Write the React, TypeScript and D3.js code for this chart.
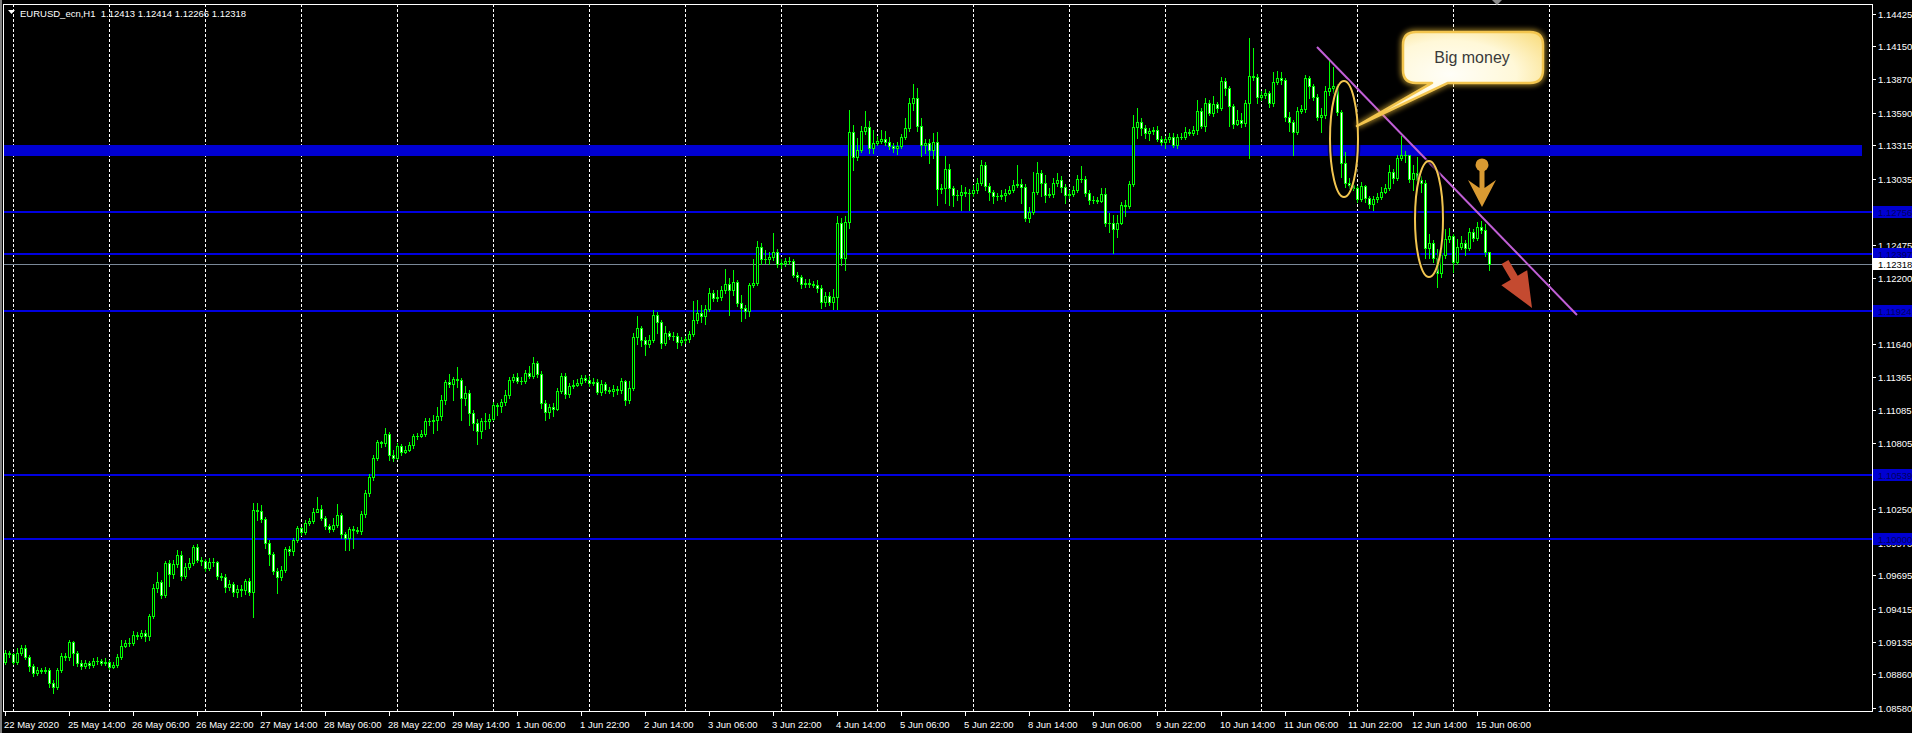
import React from "react";
import * as d3 from "d3";

const symbolTitle = "EURUSD_ecn,H1";
const lastBarOHLC = [1.12413, 1.12414, 1.12266, 1.12318];
const firstOpen = 1.08965;

const closes = [
1.09041,1.09032,1.08965,1.09041,1.09083,1.09007,1.08931,1.08873,1.08898,1.08890,
1.08898,1.08788,1.08754,1.08898,1.09015,1.09007,1.09133,1.09041,1.08957,1.08931,
1.08957,1.08940,1.08974,1.08974,1.08957,1.08965,1.08923,1.08940,1.09007,1.09099,
1.09125,1.09125,1.09192,1.09183,1.09209,1.09183,1.09352,1.09588,1.09638,1.09529,
1.09799,1.09706,1.09790,1.09866,1.09689,1.09765,1.09799,1.09933,1.09824,1.09816,
1.09757,1.09807,1.09807,1.09689,1.09681,1.09596,1.09621,1.09554,1.09579,1.09571,
1.09647,1.09554,1.10245,1.10237,1.10169,1.09967,1.09874,1.09732,1.09681,1.09740,
1.09916,1.09900,1.09992,1.10093,1.10059,1.10136,1.10153,1.10228,1.10253,1.10178,
1.10110,1.10085,1.10119,1.10203,1.10042,1.10009,1.10085,1.10076,1.10068,1.10211,
1.10388,1.10523,1.10683,1.10817,1.10809,1.10884,1.10708,1.10683,1.10783,1.10733,
1.10750,1.10792,1.10867,1.10867,1.10884,1.10995,1.10995,1.11003,1.11036,1.11171,
1.11322,1.11305,1.11348,1.11339,1.11188,1.11230,1.11062,1.10978,1.10910,1.10995,
1.10995,1.11011,1.11129,1.11120,1.11154,1.11213,1.11339,1.11365,1.11331,1.11331,
1.11399,1.11373,1.11483,1.11390,1.11146,1.11070,1.11112,1.11095,1.11247,1.11373,
1.11221,1.11288,1.11297,1.11314,1.11356,1.11339,1.11314,1.11322,1.11238,1.11305,
1.11255,1.11247,1.11263,1.11255,1.11331,1.11171,1.11272,1.11701,1.11777,1.11676,
1.11642,1.11676,1.11887,1.11828,1.11651,1.11735,1.11709,1.11709,1.11659,1.11676,
1.11684,1.11726,1.11845,1.11904,1.11878,1.11937,1.12072,1.12030,1.12038,1.12097,
1.12148,1.12097,1.12164,1.11988,1.11946,1.11920,1.12139,1.12156,1.12459,1.12358,
1.12358,1.12375,1.12417,1.12316,1.12325,1.12342,1.12342,1.12224,1.12207,1.12148,
1.12156,1.12148,1.12139,1.12114,1.11996,1.12047,1.11996,1.12038,1.12662,1.12367,
1.12670,1.13427,1.13217,1.13276,1.13436,1.13469,1.13293,1.13335,1.13352,1.13369,
1.13343,1.13310,1.13293,1.13310,1.13386,1.13461,1.13672,1.13714,1.13478,1.13318,
1.13335,1.13276,1.13343,1.12947,1.12956,1.13116,1.12956,1.12897,1.12897,1.12922,
1.12914,1.12914,1.12939,1.12998,1.13150,1.12973,1.12922,1.12888,1.12888,1.12897,
1.12914,1.12939,1.12981,1.12989,1.12964,1.12704,1.12754,1.12922,1.13083,1.12998,
1.12897,1.12905,1.12998,1.13023,1.12964,1.12897,1.12905,1.12939,1.13031,1.13031,
1.12914,1.12855,1.12855,1.12846,1.12905,1.12662,1.12662,1.12611,1.12662,1.12813,
1.12804,1.12989,1.13469,1.13512,1.13461,1.13419,1.13436,1.13444,1.13369,1.13343,
1.13369,1.13386,1.13318,1.13386,1.13386,1.13427,1.13419,1.13444,1.13604,1.13478,
1.13672,1.13588,1.13664,1.13630,1.13857,1.13798,1.13646,1.13495,1.13529,1.13504,
1.13672,1.13899,1.13891,1.13722,1.13739,1.13756,1.13672,1.13848,1.13882,1.13865,
1.13554,1.13512,1.13427,1.13604,1.13621,1.13882,1.13815,1.13722,1.13554,1.13571,
1.13773,1.13798,1.13815,1.13596,1.13167,1.12998,1.12981,1.12956,1.12863,1.12973,
1.12872,1.12821,1.12863,1.12880,1.12922,1.12956,1.13091,1.13040,1.13209,1.13234,
1.13234,1.13031,1.13083,1.13023,1.12998,1.12451,1.12493,1.12367,1.12241,1.12392,
1.12527,1.12552,1.12333,1.12459,1.12493,1.12451,1.12585,1.12535,1.12628,1.12602,
1.12413,1.12318
];

const highs = [
1.09066,1.09058,1.09041,1.09083,1.09108,1.09108,1.09024,1.08948,1.08923,1.08915,
1.08923,1.08915,1.08813,1.08915,1.09041,1.09041,1.09150,1.09142,1.09058,1.08982,
1.08982,1.08974,1.08999,1.09007,1.08990,1.08999,1.08982,1.08965,1.09032,1.09150,
1.09150,1.09167,1.09226,1.09217,1.09234,1.09234,1.09369,1.09621,1.09723,1.09655,
1.09816,1.09824,1.09824,1.09908,1.09900,1.09799,1.09841,1.09950,1.09958,1.09849,
1.09832,1.09841,1.09841,1.09816,1.09715,1.09706,1.09655,1.09638,1.09613,1.09613,
1.09664,1.09673,1.10304,1.10304,1.10287,1.10186,1.09992,1.09891,1.09757,1.09773,
1.09933,1.09941,1.10009,1.10110,1.10102,1.10161,1.10178,1.10262,1.10354,1.10287,
1.10194,1.10127,1.10178,1.10295,1.10220,1.10059,1.10102,1.10110,1.10102,1.10237,
1.10413,1.10548,1.10708,1.10834,1.10826,1.10936,1.10901,1.10750,1.10809,1.10800,
1.10783,1.10817,1.10884,1.10893,1.10918,1.11020,1.11020,1.11045,1.11112,1.11213,
1.11339,1.11390,1.11365,1.11449,1.11356,1.11288,1.11255,1.11087,1.11011,1.11020,
1.11062,1.11053,1.11154,1.11146,1.11180,1.11255,1.11365,1.11390,1.11399,1.11365,
1.11424,1.11457,1.11533,1.11500,1.11416,1.11171,1.11137,1.11146,1.11272,1.11399,
1.11399,1.11314,1.11339,1.11348,1.11382,1.11382,1.11373,1.11356,1.11348,1.11339,
1.11322,1.11280,1.11297,1.11288,1.11356,1.11339,1.11331,1.11735,1.11878,1.11794,
1.11701,1.11718,1.11929,1.11912,1.11845,1.11794,1.11752,1.11743,1.11735,1.11701,
1.11709,1.11752,1.12005,1.12013,1.11971,1.11971,1.12114,1.12097,1.12097,1.12131,
1.12274,1.12198,1.12266,1.12181,1.12055,1.11971,1.12156,1.12358,1.12510,1.12493,
1.12434,1.12417,1.12577,1.12442,1.12358,1.12367,1.12375,1.12358,1.12249,1.12224,
1.12190,1.12190,1.12173,1.12181,1.12139,1.12080,1.12080,1.12106,1.12720,1.12704,
1.12720,1.13613,1.13486,1.13377,1.13478,1.13604,1.13520,1.13444,1.13394,1.13444,
1.13436,1.13386,1.13335,1.13343,1.13411,1.13545,1.13714,1.13832,1.13798,1.13545,
1.13369,1.13369,1.13419,1.13427,1.12989,1.13225,1.13158,1.12973,1.12939,1.12981,
1.12964,1.12947,1.12981,1.13040,1.13192,1.13175,1.12998,1.12939,1.12914,1.12939,
1.12947,1.12973,1.13023,1.13150,1.13031,1.12989,1.12796,1.13091,1.13175,1.13108,
1.13066,1.12956,1.13040,1.13083,1.13057,1.12989,1.12939,1.12973,1.13066,1.13142,
1.13057,1.12939,1.12888,1.12880,1.12956,1.12956,1.12746,1.12729,1.12729,1.12838,
1.12855,1.13014,1.13571,1.13630,1.13545,1.13486,1.13461,1.13469,1.13478,1.13394,
1.13394,1.13419,1.13419,1.13411,1.13419,1.13469,1.13453,1.13478,1.13697,1.13630,
1.13714,1.13697,1.13731,1.13680,1.13891,1.13882,1.13815,1.13664,1.13613,1.13588,
1.13697,1.14219,1.14135,1.13916,1.13773,1.13790,1.13773,1.13933,1.13941,1.13933,
1.13882,1.13596,1.13529,1.13638,1.13655,1.13907,1.13899,1.13832,1.13748,1.13630,
1.13815,1.14034,1.13975,1.13832,1.13613,1.13259,1.13040,1.12998,1.12973,1.13006,
1.12981,1.12888,1.12888,1.12914,1.12964,1.12989,1.13150,1.13116,1.13234,1.13394,
1.13268,1.13234,1.13150,1.13217,1.13057,1.13023,1.12569,1.12518,1.12442,1.12426,
1.12611,1.12619,1.12569,1.12527,1.12552,1.12518,1.12619,1.12611,1.12670,1.12679,
1.12653,1.12414
];

const lows = [
1.08948,1.09007,1.08948,1.08948,1.09024,1.08990,1.08890,1.08847,1.08856,1.08873,
1.08873,1.08754,1.08704,1.08737,1.08881,1.08982,1.08982,1.08940,1.08931,1.08906,
1.08915,1.08915,1.08923,1.08948,1.08940,1.08940,1.08906,1.08915,1.08923,1.08990,
1.09091,1.09099,1.09108,1.09158,1.09167,1.09142,1.09150,1.09336,1.09554,1.09504,
1.09512,1.09605,1.09673,1.09765,1.09655,1.09673,1.09748,1.09782,1.09807,1.09782,
1.09732,1.09740,1.09773,1.09664,1.09655,1.09554,1.09571,1.09520,1.09512,1.09520,
1.09537,1.09529,1.09344,1.10161,1.10144,1.09925,1.09782,1.09706,1.09546,1.09655,
1.09723,1.09866,1.09866,1.09975,1.10034,1.10042,1.10119,1.10136,1.10228,1.10161,
1.10085,1.10059,1.10068,1.10102,1.10009,1.09908,1.09908,1.09925,1.10051,1.10042,
1.10186,1.10362,1.10497,1.10666,1.10775,1.10783,1.10666,1.10658,1.10674,1.10708,
1.10725,1.10742,1.10767,1.10842,1.10859,1.10867,1.10961,1.10893,1.10918,1.11003,
1.11137,1.11280,1.11171,1.11280,1.11003,1.11129,1.10961,1.10918,1.10800,1.10851,
1.10927,1.10936,1.11003,1.11045,1.11070,1.11129,1.11188,1.11322,1.11314,1.11305,
1.11314,1.11356,1.11356,1.11365,1.11104,1.11003,1.11020,1.11036,1.11087,1.11230,
1.11188,1.11196,1.11272,1.11288,1.11297,1.11322,1.11288,1.11297,1.11221,1.11213,
1.11230,1.11230,1.11204,1.11221,1.11230,1.11129,1.11146,1.11255,1.11642,1.11625,
1.11550,1.11617,1.11659,1.11735,1.11608,1.11634,1.11684,1.11676,1.11608,1.11634,
1.11651,1.11659,1.11709,1.11820,1.11828,1.11811,1.11920,1.12005,1.12005,1.12013,
1.12072,1.11887,1.12055,1.11962,1.11836,1.11862,1.11878,1.12122,1.12139,1.12316,
1.12325,1.12316,1.12350,1.12291,1.12283,1.12299,1.12316,1.12207,1.12173,1.12114,
1.12122,1.12122,1.12122,1.12080,1.11946,1.11962,1.11971,1.11937,1.11937,1.12308,
1.12266,1.12619,1.13108,1.13192,1.13259,1.13411,1.13251,1.13251,1.13318,1.13335,
1.13318,1.13284,1.13259,1.13242,1.13293,1.13369,1.13436,1.13613,1.13436,1.13225,
1.13251,1.13167,1.13209,1.12812,1.12914,1.12830,1.12812,1.12804,1.12855,1.12771,
1.12888,1.12771,1.12888,1.12914,1.12981,1.12939,1.12855,1.12830,1.12855,1.12863,
1.12846,1.12905,1.12922,1.12964,1.12830,1.12679,1.12670,1.12737,1.12905,1.12888,
1.12838,1.12880,1.12880,1.12973,1.12922,1.12830,1.12872,1.12888,1.12922,1.13006,
1.12888,1.12821,1.12830,1.12830,1.12838,1.12636,1.12585,1.12409,1.12543,1.12653,
1.12720,1.12788,1.12973,1.13377,1.13402,1.13377,1.13360,1.13411,1.13352,1.13318,
1.13293,1.13343,1.13301,1.13293,1.13369,1.13369,1.13402,1.13402,1.13411,1.13461,
1.13436,1.13571,1.13562,1.13596,1.13613,1.13739,1.13478,1.13461,1.13487,1.13470,
1.13478,1.13209,1.13865,1.13672,1.13697,1.13714,1.13638,1.13646,1.13832,1.13832,
1.13520,1.13436,1.13234,1.13411,1.13588,1.13596,1.13714,1.13697,1.13529,1.13427,
1.13545,1.13739,1.13756,1.13571,1.13048,1.12964,1.12956,1.12939,1.12838,1.12846,
1.12838,1.12788,1.12771,1.12838,1.12863,1.12914,1.12939,1.12998,1.13023,1.13192,
1.13175,1.13006,1.12939,1.12989,1.12922,1.12367,1.12367,1.12333,1.12122,1.12207,
1.12367,1.12501,1.12249,1.12316,1.12442,1.12392,1.12434,1.12510,1.12518,1.12577,
1.12384,1.12266
];

const timeLabels = [
"22 May 2020","25 May 14:00","26 May 06:00","26 May 22:00","27 May 14:00","28 May 06:00",
"28 May 22:00","29 May 14:00","1 Jun 06:00","1 Jun 22:00","2 Jun 14:00","3 Jun 06:00",
"3 Jun 22:00","4 Jun 14:00","5 Jun 06:00","5 Jun 22:00","8 Jun 14:00","9 Jun 06:00",
"9 Jun 22:00","10 Jun 14:00","11 Jun 06:00","11 Jun 22:00","12 Jun 14:00","15 Jun 06:00"
];
const priceTicks = [
1.14425,1.14150,1.13870,1.13590,1.13315,1.13035,1.12755,1.12475,1.12200,1.11920,1.11640,
1.11365,1.11085,1.10805,1.10525,1.10250,1.09970,1.09695,1.09415,1.09135,1.08860,1.08580
];
const levelLines = [1.12756, 1.12397, 1.11924, 1.10539, 1.10000];
const bidPrice = 1.12318;
const zonePrices = [1.13318, 1.13234];
const zoneBars = [-0.25, 464.25];
const trendBars = [328, 393];
const trendPrices = [1.14143, 1.11887];
const ellipseBars = [[331.25, 338.25], [352.5, 359.5]];
const ellipsePrices = [[1.13857, 1.1288], [1.13183, 1.12207]];
const calloutText = "Big money";
const calloutAnchor = { bar: 349.5, price: 1.1427 };
const calloutTip = { bar: 338, price: 1.13478 };
const orangeArrow = { bar: 369.25, price: 1.1315, tipPrice: 1.12796 };
const redArrow = { tailBar: 375, tailPrice: 1.12333, tipBar: 381.75, tipPrice: 1.11946 };
const gridBars = d3.range(2, 387, 24);

const FONT = "'Liberation Sans', Arial, sans-serif";
const LIME = "#00ff00";

export default function App() {
  const W = 1912, H = 733;
  const L = 3, R = 1872, T = 4, B = 711;
  const x = d3.scaleLinear().domain([0, 1]).range([5, 9]);
  const y = d3.scaleLinear().domain([1.0858, 1.14425]).range([707.7, 13.5]);
  const ry = (p: number) => Math.round(y(p));
  const opens = closes.map((c, i) => (i === 0 ? firstOpen : closes[i - 1]));

  const candles = closes.map((c, i) => {
    const o = opens[i];
    const hi = Math.max(highs[i], o, c);
    const lo = Math.min(lows[i], o, c);
    const cx = Math.round(x(i));
    const yh = ry(hi), yl = ry(lo);
    const top = ry(Math.max(o, c)), bot = ry(Math.min(o, c));
    const bull = c > o;
    return (
      <g key={i}>
        <rect x={cx} y={yh} width={1} height={yl - yh + 1} fill={LIME} />
        {top === bot ? (
          <rect x={cx - 1} y={top} width={3} height={1} fill={LIME} />
        ) : (
          <>
            <rect x={cx - 1} y={top} width={3} height={bot - top + 1} fill={LIME} />
            {bot - top > 1 && (
              <rect x={cx} y={top + 1} width={1} height={bot - top - 1} fill={bull ? "#000" : "#fff"} />
            )}
          </>
        )}
      </g>
    );
  });

  const bx = x(calloutAnchor.bar), by = y(calloutAnchor.price);
  const bw = 140, bh = 51, rr = 13;
  const tx = x(calloutTip.bar), ty = y(calloutTip.price);
  const calloutPath = `M${bx + rr},${by} H${bx + bw - rr} Q${bx + bw},${by} ${bx + bw},${by + rr} V${by + bh - rr} Q${bx + bw},${by + bh} ${bx + bw - rr},${by + bh} H${bx + 45} L${tx},${ty} L${bx + 29},${by + bh} H${bx + rr} Q${bx},${by + bh} ${bx},${by + bh - rr} V${by + rr} Q${bx},${by} ${bx + rr},${by} Z`;

  const ox = x(orangeArrow.bar), oy = y(orangeArrow.price), otip = y(orangeArrow.tipPrice);
  const headTop = otip - 27;
  const orangePath = `M${ox - 2.5},${oy} H${ox + 2.5} V${headTop + 8} L${ox + 14},${headTop} L${ox},${otip} L${ox - 14},${headTop} L${ox - 2.5},${headTop + 8} Z`;

  const rtx = x(redArrow.tailBar), rty = y(redArrow.tailPrice);
  const rpx = x(redArrow.tipBar), rpy = y(redArrow.tipPrice);
  const dx = rpx - rtx, dy = rpy - rty;
  const len = Math.hypot(dx, dy);
  const ux = dx / len, uy = dy / len;
  const nx = -uy, ny = ux;
  const headLen = 35, shaftW = 4, headW = 15;
  const hbx = rpx - ux * headLen, hby = rpy - uy * headLen;
  const redPts = [
    [rtx + nx * shaftW, rty + ny * shaftW],
    [hbx + nx * shaftW, hby + ny * shaftW],
    [hbx + nx * headW, hby + ny * headW],
    [rpx, rpy],
    [hbx - nx * headW, hby - ny * headW],
    [hbx - nx * shaftW, hby - ny * shaftW],
    [rtx - nx * shaftW, rty - ny * shaftW],
  ].map((p) => p.join(",")).join(" ");

  const lastX = x(closes.length - 1);

  return (
    <div style={{ position: "fixed", left: 0, top: 0, width: W, height: H, background: "#000" }}>
      <svg width={W} height={H} style={{ display: "block" }} fontFamily={FONT}>
        <defs>
          <radialGradient id="cg" cx="50%" cy="45%" r="65%">
            <stop offset="0%" stopColor="#fffef8" />
            <stop offset="55%" stopColor="#fff8d8" />
            <stop offset="100%" stopColor="#f9dc7c" />
          </radialGradient>
          <filter id="glow" x="-20%" y="-20%" width="140%" height="140%">
            <feGaussianBlur stdDeviation="2.5" />
          </filter>
        </defs>
        <rect x={0} y={0} width={W} height={H} fill="#000" />
        <rect x={0} y={0} width={2} height={H} fill="#808080" />

        {gridBars.map((b) => (
          <line key={b} x1={Math.round(x(b)) + 0.5} x2={Math.round(x(b)) + 0.5} y1={T} y2={B}
            stroke="#fff" strokeWidth={1} strokeDasharray="3,2" />
        ))}

        <rect x={x(zoneBars[0])} y={ry(zonePrices[0])} width={x(zoneBars[1]) - x(zoneBars[0])}
          height={ry(zonePrices[1]) - ry(zonePrices[0]) + 1} fill="#0000d2" />

        {levelLines.map((p) => (
          <rect key={p} x={L} y={ry(p) - 1} width={R - L} height={2} fill="#0000e0" />
        ))}
        <line x1={L} x2={R} y1={ry(bidPrice) + 0.5} y2={ry(bidPrice) + 0.5} stroke="#7a8898" strokeWidth={1} />

        {candles}

        <line x1={x(trendBars[0])} y1={y(trendPrices[0])} x2={x(trendBars[1])} y2={y(trendPrices[1])}
          stroke="#c15fd6" strokeWidth={2} />

        {ellipseBars.map((eb, k) => {
          const cx = (x(eb[0]) + x(eb[1])) / 2;
          const cy = (y(ellipsePrices[k][0]) + y(ellipsePrices[k][1])) / 2;
          const rx = (x(eb[1]) - x(eb[0])) / 2;
          const ryy = (y(ellipsePrices[k][1]) - y(ellipsePrices[k][0])) / 2;
          return (
            <g key={k}>
              <ellipse cx={cx} cy={cy} rx={rx} ry={ryy} fill="none" stroke="#000" strokeOpacity={0.6} strokeWidth={5} />
              <ellipse cx={cx} cy={cy} rx={rx} ry={ryy} fill="none" stroke="#f2c550" strokeWidth={2} />
            </g>
          );
        })}

        <path d={calloutPath} fill="none" stroke="#f7c63c" strokeWidth={6} opacity={0.55} filter="url(#glow)" />
        <path d={calloutPath} fill="url(#cg)" stroke="#f3c54e" strokeWidth={2.5} strokeLinejoin="round" />
        <text x={bx + bw / 2 - 1} y={by + bh / 2 + 6} textAnchor="middle" fontSize={16} fill="#3a3a3a"
          fontFamily="'Liberation Sans', Arial, sans-serif">{calloutText}</text>

        <circle cx={ox} cy={oy} r={6.5} fill="#d99a32" />
        <path d={orangePath} fill="#d99a32" />

        <polygon points={redPts} fill="#c44a30" />

        <rect x={L + 0.5} y={T + 0.5} width={R - L} height={B - T} fill="none" stroke="#fff" strokeWidth={1} />
        <polygon points={`${lastX + 3},0 ${lastX + 13},0 ${lastX + 8},5`} fill="#8c8c8c" />

        <polygon points="8,10 15,10 11.5,14" fill="#fff" />
        <text x={20} y={16.5} fontSize={9.5} fill="#fff" xmlSpace="preserve">
          {`${symbolTitle}  ${lastBarOHLC.map((v) => v.toFixed(5)).join(" ")}`}
        </text>

        {priceTicks.map((p) => (
          <g key={p}>
            <line x1={R} x2={R + 4} y1={ry(p) + 0.5} y2={ry(p) + 0.5} stroke="#fff" />
            <text x={R + 6} y={ry(p) + 4} fontSize={9.5} fill="#fff">{p.toFixed(5)}</text>
          </g>
        ))}
        {levelLines.map((p) => (
          <g key={"b" + p}>
            <rect x={R + 1} y={ry(p) - 6} width={W - R - 1} height={12} fill="#0000d2" />
            <text x={R + 6} y={ry(p) + 4} fontSize={9.5} fill="#000060">{p.toFixed(5)}</text>
          </g>
        ))}
        <rect x={R + 1} y={ry(bidPrice) - 6} width={W - R - 1} height={12} fill="#fff" />
        <text x={R + 6} y={ry(bidPrice) + 4} fontSize={9.5} fill="#000">{bidPrice.toFixed(5)}</text>

        {timeLabels.map((t, k) => {
          const tx0 = Math.round(x(k * 16));
          return (
            <g key={t}>
              <line x1={tx0 + 0.5} x2={tx0 + 0.5} y1={B} y2={B + 5} stroke="#fff" />
              <text x={tx0 - 1} y={728} fontSize={9.5} fill="#fff">{t}</text>
            </g>
          );
        })}
      </svg>
    </div>
  );
}
